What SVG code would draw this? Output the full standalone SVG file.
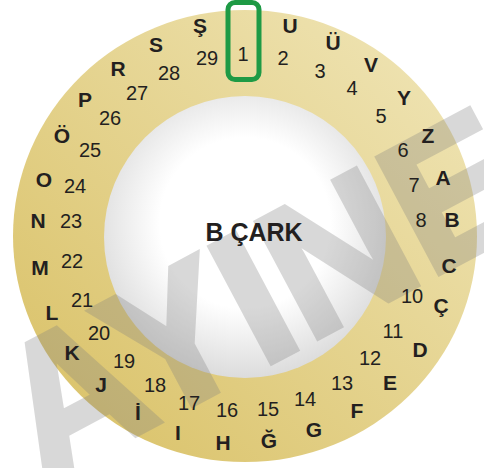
<svg xmlns="http://www.w3.org/2000/svg" width="484" height="468" viewBox="0 0 484 468">
<defs>
<linearGradient id="ringGrad" x1="0" y1="1" x2="1" y2="0">
<stop offset="0" stop-color="#d8bf62"/>
<stop offset="1" stop-color="#f1e7bb"/>
</linearGradient>
<radialGradient id="innerGrad" cx="0.5" cy="0.45" r="0.55">
<stop offset="0.55" stop-color="#ffffff"/>
<stop offset="1" stop-color="#dcdcdc"/>
</radialGradient>
<style>
.l{font-family:"Liberation Sans",Arial,sans-serif;font-weight:bold;font-size:21px;fill:#231f20;text-anchor:middle}
.n{font-family:"Liberation Sans",Arial,sans-serif;font-size:20px;fill:#231f20;text-anchor:middle}
.t{font-family:"Liberation Sans",Arial,sans-serif;font-weight:bold;font-size:25px;fill:#231f20;text-anchor:middle}
.wm{font-family:"Liberation Sans",Arial,sans-serif;font-weight:bold;font-size:190px;fill:#808080;stroke:#808080;stroke-width:6;stroke-linejoin:miter;opacity:0.3}
</style>
</defs>
<rect width="484" height="468" fill="#ffffff"/>
<g id="wheel">
<ellipse cx="245" cy="236" rx="232" ry="226" fill="url(#ringGrad)"/>
<circle cx="245" cy="237" r="141" fill="url(#innerGrad)"/>
</g>
<g id="watermark">
<text class="wm" transform="translate(43 484) rotate(-28)" x="0" y="0">AYINE</text>
</g>
<g id="letters">
<text class="l" x="290" y="33">U</text>
<text class="l" x="333" y="50">Ü</text>
<text class="l" x="371" y="72">V</text>
<text class="l" x="404" y="105">Y</text>
<text class="l" x="428" y="143">Z</text>
<text class="l" x="443" y="185">A</text>
<text class="l" x="452" y="227">B</text>
<text class="l" x="449" y="273">C</text>
<text class="l" x="441" y="313">Ç</text>
<text class="l" x="420" y="357">D</text>
<text class="l" x="390" y="390">E</text>
<text class="l" x="357" y="418">F</text>
<text class="l" x="314" y="437">G</text>
<text class="l" x="269" y="448">Ğ</text>
<text class="l" x="223" y="450">H</text>
<text class="l" x="178" y="440">I</text>
<text class="l" x="138" y="420">İ</text>
<text class="l" x="101" y="392">J</text>
<text class="l" x="72" y="360">K</text>
<text class="l" x="52" y="320">L</text>
<text class="l" x="40" y="275">M</text>
<text class="l" x="38" y="228">N</text>
<text class="l" x="44" y="187">O</text>
<text class="l" x="62" y="143">Ö</text>
<text class="l" x="85" y="107">P</text>
<text class="l" x="118" y="76">R</text>
<text class="l" x="156" y="52">S</text>
<text class="l" x="200" y="33">Ş</text>
</g>
<g id="numbers">
<text class="n" x="243" y="61">1</text>
<text class="n" x="283" y="65">2</text>
<text class="n" x="320" y="78">3</text>
<text class="n" x="352" y="95">4</text>
<text class="n" x="381" y="123">5</text>
<text class="n" x="403" y="157">6</text>
<text class="n" x="414" y="192">7</text>
<text class="n" x="421" y="227">8</text>
<text class="n" x="412" y="303">10</text>
<text class="n" x="393" y="338">11</text>
<text class="n" x="370" y="365">12</text>
<text class="n" x="342" y="390">13</text>
<text class="n" x="305" y="406">14</text>
<text class="n" x="268" y="416">15</text>
<text class="n" x="227" y="417">16</text>
<text class="n" x="189" y="410">17</text>
<text class="n" x="155" y="392">18</text>
<text class="n" x="124" y="368">19</text>
<text class="n" x="99" y="340">20</text>
<text class="n" x="82" y="307">21</text>
<text class="n" x="72" y="268">22</text>
<text class="n" x="71" y="228">23</text>
<text class="n" x="75" y="193">24</text>
<text class="n" x="90" y="157">25</text>
<text class="n" x="110" y="125">26</text>
<text class="n" x="137" y="100">27</text>
<text class="n" x="169" y="80">28</text>
<text class="n" x="207" y="65">29</text>
</g>
<g id="title">
<text class="t" x="254" y="241">B ÇARK</text>
</g>
<g id="marker">
<rect x="228" y="2.5" width="31" height="77" rx="7" fill="none" stroke="#1e9a45" stroke-width="5"/>
</g>
</svg>
